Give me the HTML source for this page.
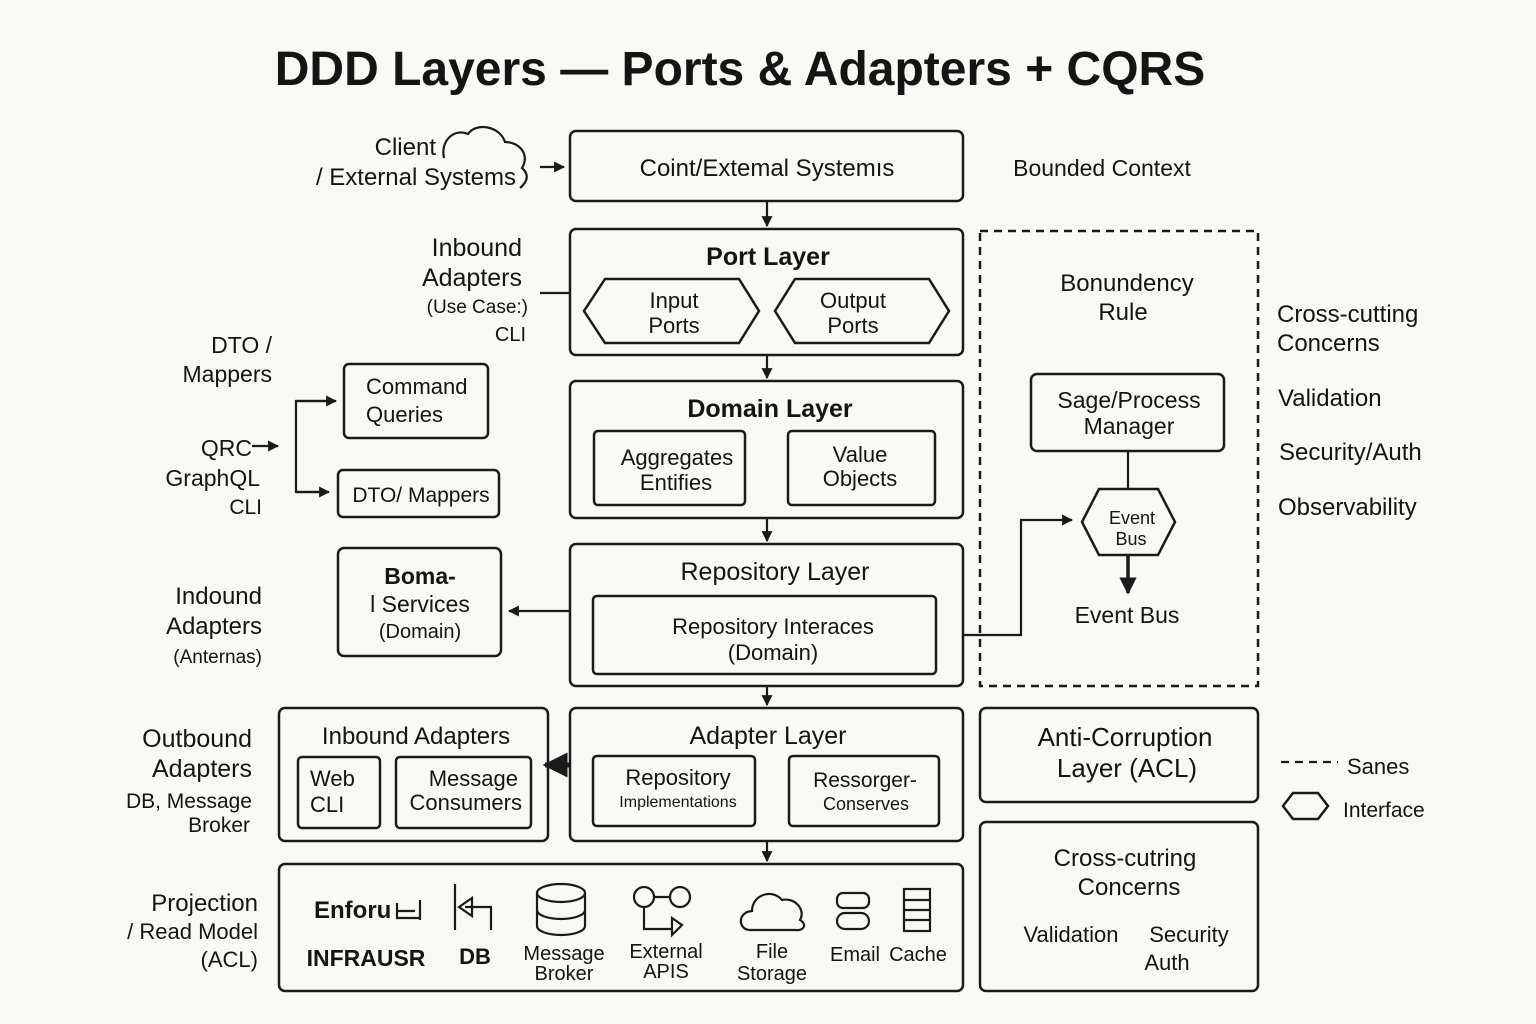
<!DOCTYPE html>
<html><head><meta charset="utf-8"><style>
html,body{margin:0;padding:0;background:#f8f8f5;}
svg{display:block;font-family:"Liberation Sans",sans-serif;}
text{fill:#141414;}
.b{fill:none;stroke:#1a1a1a;stroke-width:2.5;}
.l{fill:none;stroke:#1a1a1a;stroke-width:2.2;}
</style></head><body>
<svg width="1536" height="1024" viewBox="0 0 1536 1024" xmlns="http://www.w3.org/2000/svg">
<defs>
<marker id="a" viewBox="0 0 10 10" refX="9" refY="5" markerWidth="5" markerHeight="5" orient="auto"><path d="M0,0 L10,5 L0,10 z" fill="#1a1a1a"/></marker>
</defs>
<rect width="1536" height="1024" fill="#f8f8f5"/>
<text x="740" y="85" font-size="48" font-weight="bold" text-anchor="middle">DDD Layers — Ports &amp; Adapters + CQRS</text>

<!-- client -->
<text x="436" y="155" font-size="24" text-anchor="end">Client</text>
<text x="516" y="185" font-size="24" text-anchor="end">/ External Systems</text>
<path class="l" d="M444,158 C440,140 455,128 468,134 C476,122 500,126 505,142 C520,142 530,155 522,168 C530,175 527,182 520,188"/>
<line class="l" x1="540" y1="167" x2="564" y2="167" marker-end="url(#a)"/>

<!-- layers -->
<rect class="b" x="570" y="131" width="393" height="70" rx="6"/>
<text x="767" y="176" font-size="24" text-anchor="middle">Coint/Extemal Systemıs</text>
<line class="l" x1="767" y1="201" x2="767" y2="226" marker-end="url(#a)"/>

<rect class="b" x="570" y="229" width="393" height="126" rx="6"/>
<text x="768" y="265" font-size="25" font-weight="bold" text-anchor="middle">Port Layer</text>
<polygon class="b" points="605,279 739,279 759,311 739,343 605,343 584,311"/>
<text x="674" y="308" font-size="22" text-anchor="middle">Input</text>
<text x="674" y="333" font-size="22" text-anchor="middle">Ports</text>
<polygon class="b" points="795,279 929,279 949,311 929,343 795,343 775,311"/>
<text x="853" y="308" font-size="22" text-anchor="middle">Output</text>
<text x="853" y="333" font-size="22" text-anchor="middle">Ports</text>
<line class="l" x1="767" y1="355" x2="767" y2="378" marker-end="url(#a)"/>

<rect class="b" x="570" y="381" width="393" height="137" rx="6"/>
<text x="770" y="417" font-size="25" font-weight="bold" text-anchor="middle">Domain Layer</text>
<rect class="b" x="594" y="431" width="151" height="74" rx="4"/>
<text x="677" y="465" font-size="22" text-anchor="middle">Aggregates</text>
<text x="676" y="490" font-size="22" text-anchor="middle">Entifies</text>
<rect class="b" x="788" y="431" width="147" height="74" rx="4"/>
<text x="860" y="462" font-size="22" text-anchor="middle">Value</text>
<text x="860" y="486" font-size="22" text-anchor="middle">Objects</text>
<line class="l" x1="767" y1="518" x2="767" y2="541" marker-end="url(#a)"/>

<rect class="b" x="570" y="544" width="393" height="142" rx="6"/>
<text x="775" y="580" font-size="25" text-anchor="middle">Repository Layer</text>
<rect class="b" x="593" y="596" width="343" height="78" rx="4"/>
<text x="773" y="634" font-size="22" text-anchor="middle">Repository Interaces</text>
<text x="773" y="660" font-size="22" text-anchor="middle">(Domain)</text>
<line class="l" x1="767" y1="686" x2="767" y2="705" marker-end="url(#a)"/>

<rect class="b" x="570" y="708" width="393" height="133" rx="6"/>
<text x="768" y="744" font-size="25" text-anchor="middle">Adapter Layer</text>
<rect class="b" x="593" y="756" width="162" height="70" rx="4"/>
<text x="678" y="785" font-size="22" text-anchor="middle">Repository</text>
<text x="678" y="807" font-size="16" text-anchor="middle">Implementations</text>
<rect class="b" x="789" y="756" width="150" height="70" rx="4"/>
<text x="865" y="787" font-size="21" text-anchor="middle">Ressorger-</text>
<text x="866" y="810" font-size="18" text-anchor="middle">Conserves</text>
<line class="l" x1="767" y1="841" x2="767" y2="861" marker-end="url(#a)"/>

<!-- infra -->
<rect class="b" x="279" y="864" width="684" height="127" rx="6"/>
<text x="314" y="918" font-size="24" font-weight="bold">Enforu</text>
<path class="l" d="M397,903 V918 H420 M420,900 V920 M397,911 H415"/>
<text x="366" y="966" font-size="23" font-weight="bold" text-anchor="middle">INFRAUSR</text>
<path class="l" d="M455,884 V930 M459,907 L472,898 V916 Z M465,907 H491 V930"/>
<text x="475" y="964" font-size="22" font-weight="bold" text-anchor="middle">DB</text>
<g class="l"><ellipse cx="561" cy="893" rx="24" ry="9"/><path d="M537,893 V926 A24,9 0 0 0 585,926 V893 M537,910 A24,9 0 0 0 585,910"/></g>
<text x="564" y="960" font-size="20" text-anchor="middle">Message</text>
<text x="564" y="980" font-size="20" text-anchor="middle">Broker</text>
<g class="l"><circle cx="644" cy="897" r="10"/><circle cx="680" cy="897" r="10"/><path d="M654,897 H670 M644,907 V929 H672 M672,918 L682,925 L672,935 Z"/></g>
<text x="666" y="958" font-size="20" text-anchor="middle">External</text>
<text x="666" y="978" font-size="20" text-anchor="middle">APIS</text>
<path class="l" d="M750,930 C738,930 737,912 752,911 C752,895 772,888 782,900 C795,897 806,910 800,920 C808,925 803,931 796,930 Z"/>
<text x="772" y="958" font-size="20" text-anchor="middle">File</text>
<text x="772" y="980" font-size="20" text-anchor="middle">Storage</text>
<g class="l"><rect x="837" y="893" width="32" height="15" rx="6"/><rect x="837" y="913" width="32" height="16" rx="8"/></g>
<text x="855" y="961" font-size="20" text-anchor="middle">Email</text>
<g class="l"><rect x="904" y="889" width="26" height="42"/><path d="M904,900 H930 M904,910 H930 M904,920 H930"/></g>
<text x="918" y="961" font-size="20" text-anchor="middle">Cache</text>

<!-- left side -->
<text x="522" y="256" font-size="25" text-anchor="end">Inbound</text>
<text x="522" y="286" font-size="25" text-anchor="end">Adapters</text>
<text x="528" y="313" font-size="19" text-anchor="end">(Use Case:)</text>
<text x="526" y="341" font-size="20" text-anchor="end">CLI</text>
<line class="l" x1="540" y1="293" x2="570" y2="293"/>

<text x="272" y="353" font-size="23" text-anchor="end">DTO /</text>
<text x="272" y="382" font-size="23" text-anchor="end">Mappers</text>
<text x="252" y="456" font-size="23" text-anchor="end">QRC</text>
<line class="l" x1="252" y1="446" x2="278" y2="446" marker-end="url(#a)"/>
<text x="260" y="486" font-size="23" text-anchor="end">GraphQL</text>
<text x="262" y="514" font-size="21" text-anchor="end">CLI</text>
<path class="l" d="M334,401 H296 V492 H327" />
<line class="l" x1="296" y1="401" x2="336" y2="401" marker-end="url(#a)"/>
<line class="l" x1="296" y1="492" x2="329" y2="492" marker-end="url(#a)"/>
<rect class="b" x="344" y="364" width="144" height="74" rx="5"/>
<text x="366" y="394" font-size="22">Command</text>
<text x="366" y="422" font-size="22">Queries</text>
<rect class="b" x="338" y="470" width="161" height="47" rx="5"/>
<text x="421" y="502" font-size="21" text-anchor="middle">DTO/ Mappers</text>

<text x="262" y="604" font-size="24" text-anchor="end">Indound</text>
<text x="262" y="634" font-size="24" text-anchor="end">Adapters</text>
<text x="262" y="663" font-size="19" text-anchor="end">(Anternas)</text>
<rect class="b" x="338" y="548" width="163" height="108" rx="6"/>
<text x="420" y="584" font-size="23" font-weight="bold" text-anchor="middle">Boma-</text>
<text x="420" y="612" font-size="23" text-anchor="middle">l Services</text>
<text x="420" y="638" font-size="20" text-anchor="middle">(Domain)</text>
<line class="l" x1="570" y1="611" x2="509" y2="611" marker-end="url(#a)"/>

<text x="252" y="747" font-size="25" text-anchor="end">Outbound</text>
<text x="252" y="777" font-size="25" text-anchor="end">Adapters</text>
<text x="252" y="808" font-size="21" text-anchor="end">DB, Message</text>
<text x="250" y="832" font-size="21" text-anchor="end">Broker</text>
<rect class="b" x="279" y="708" width="269" height="133" rx="6"/>
<text x="416" y="744" font-size="24" text-anchor="middle">Inbound Adapters</text>
<rect class="b" x="298" y="757" width="82" height="71" rx="4"/>
<text x="310" y="786" font-size="22">Web</text>
<text x="310" y="812" font-size="22">CLI</text>
<rect class="b" x="396" y="757" width="135" height="71" rx="4"/>
<text x="518" y="786" font-size="22" text-anchor="end">Message</text>
<text x="522" y="810" font-size="22" text-anchor="end">Consumers</text>
<line x1="570" y1="765" x2="545" y2="765" stroke="#1a1a1a" stroke-width="5" marker-end="url(#a)"/>

<text x="258" y="911" font-size="24" text-anchor="end">Projection</text>
<text x="258" y="939" font-size="22" text-anchor="end">/ Read Model</text>
<text x="258" y="967" font-size="22" text-anchor="end">(ACL)</text>

<!-- right side -->
<text x="1102" y="176" font-size="23" text-anchor="middle">Bounded Context</text>
<rect x="980" y="231" width="278" height="455" fill="none" stroke="#1a1a1a" stroke-width="2.5" stroke-dasharray="8,6"/>
<text x="1127" y="291" font-size="24" text-anchor="middle">Bonundency</text>
<text x="1123" y="320" font-size="24" text-anchor="middle">Rule</text>
<rect class="b" x="1031" y="374" width="193" height="77" rx="6"/>
<text x="1129" y="408" font-size="23" text-anchor="middle">Sage/Process</text>
<text x="1129" y="434" font-size="23" text-anchor="middle">Manager</text>
<line class="l" x1="1128" y1="451" x2="1128" y2="489"/>
<polygon class="b" points="1099,489 1158,489 1175,522 1158,555 1099,555 1082,522"/>
<text x="1132" y="524" font-size="18" text-anchor="middle">Event</text>
<text x="1131" y="545" font-size="18" text-anchor="middle">Bus</text>
<line x1="1128" y1="555" x2="1128" y2="593" stroke="#1a1a1a" stroke-width="3.5" marker-end="url(#a)"/>
<text x="1127" y="623" font-size="23" text-anchor="middle">Event Bus</text>
<path class="l" d="M963,635 H1021 V520 H1072" marker-end="url(#a)"/>

<text x="1277" y="322" font-size="24">Cross-cutting</text>
<text x="1277" y="351" font-size="24">Concerns</text>
<text x="1278" y="406" font-size="24">Validation</text>
<text x="1279" y="460" font-size="24">Security/Auth</text>
<text x="1278" y="515" font-size="24">Observability</text>

<rect class="b" x="980" y="708" width="278" height="94" rx="6"/>
<text x="1125" y="746" font-size="26" text-anchor="middle">Anti-Corruption</text>
<text x="1127" y="777" font-size="26" text-anchor="middle">Layer (ACL)</text>
<rect class="b" x="980" y="822" width="278" height="169" rx="6"/>
<text x="1125" y="866" font-size="24" text-anchor="middle">Cross-cutring</text>
<text x="1129" y="895" font-size="24" text-anchor="middle">Concerns</text>
<text x="1071" y="942" font-size="22" text-anchor="middle">Validation</text>
<text x="1189" y="942" font-size="22" text-anchor="middle">Security</text>
<text x="1167" y="970" font-size="22" text-anchor="middle">Auth</text>

<line x1="1281" y1="762" x2="1338" y2="762" stroke="#1a1a1a" stroke-width="2.2" stroke-dasharray="8,6"/>
<text x="1347" y="774" font-size="22">Sanes</text>
<polygon class="b" points="1293,793 1318,793 1328,806 1318,819 1293,819 1283,806"/>
<text x="1343" y="817" font-size="21">Interface</text>
</svg>
</body></html>
